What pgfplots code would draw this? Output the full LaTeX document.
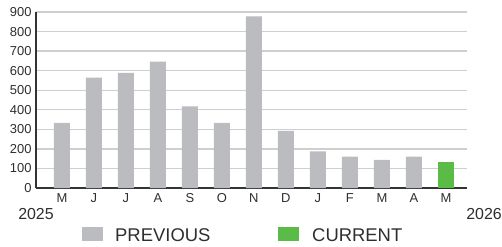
\documentclass[border=0pt]{standalone}
\usepackage{pgfplots}
\pgfplotsset{compat=1.18}
\usepackage{fontspec}
\setmainfont{Liberation Sans}
\definecolor{prevgray}{HTML}{BBBCC0}
\definecolor{curgreen}{HTML}{5BBB47}
\definecolor{txt}{HTML}{2E2E2E}
\definecolor{gridc}{HTML}{CFCFCF}
\definecolor{axc}{HTML}{333333}
\begin{document}
\begin{tikzpicture}[x=1bp,y=1bp]
\useasboundingbox (0,0) rectangle (502,246);
\begin{axis}[
  at={(36bp,58bp)}, anchor=south west,
  scale only axis, width=431bp, height=176bp,
  xmin=-0.81, xmax=12.66, ymin=0, ymax=900,
  ytick={0,100,...,900},
  xtick={0,...,12},
  xticklabels={M,J,J,A,S,O,N,D,J,F,M,A,M},
  axis x line*=bottom, axis y line*=left,
  axis line style={axc, line width=1.6bp, -},
  ymajorgrids, grid style={gridc, line width=1.4bp},
  major tick length=0pt,
  tick label style={font=\fontsize{13}{13}\selectfont, text=txt},
  yticklabel style={xshift=-1bp},
  xticklabel style={yshift=-2bp},
  /pgf/number format/assume math mode=true,
  ybar, bar width=16bp, bar shift=0pt,
  clip=false,
]
\addplot[fill=prevgray, draw=none] coordinates {
  (0,333) (1,565) (2,589) (3,646) (4,418) (5,333) (6,878)
  (7,292) (8,187) (9,160) (10,144) (11,160)
};
\addplot[fill=curgreen, draw=none] coordinates {(12,133)};
\end{axis}
\node[text=txt, font=\fontsize{16}{16}\selectfont] at (36,32) {2025};
\node[text=txt, font=\fontsize{16}{16}\selectfont] at (484,32) {2026};
\fill[prevgray] (82,5.5) rectangle (103,19);
\node[text=txt, anchor=west, inner sep=0pt, font=\fontsize{18.5}{18.5}\selectfont] at (115,11) {PREVIOUS};
\fill[curgreen] (277.5,5.5) rectangle (299,19);
\node[text=txt, anchor=west, inner sep=0pt, font=\fontsize{18.5}{18.5}\selectfont] at (312,11) {CURRENT};
\end{tikzpicture}
\end{document}
